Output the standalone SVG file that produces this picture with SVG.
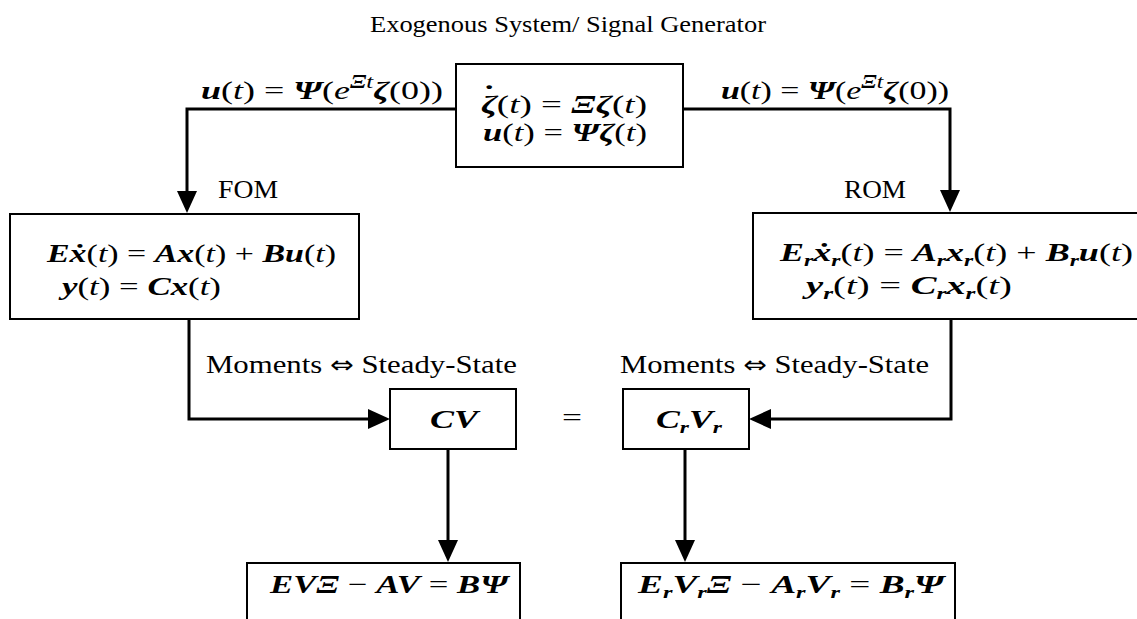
<svg xmlns="http://www.w3.org/2000/svg" width="1137" height="619" viewBox="0 0 1137 619" font-family="'Liberation Serif', 'DejaVu Serif', serif" font-size="26">
<style>
.box{fill:#fff;stroke:#000;stroke-width:2}
.conn{fill:none;stroke:#000;stroke-width:3}
.bi{font-weight:bold;font-style:italic}
.i{font-style:italic}
.sub{font-size:17px}
.sup{font-size:18px}
.arr{font-family:'DejaVu Sans',sans-serif;font-size:24px}
</style>
<defs>
<marker id="ah" markerUnits="userSpaceOnUse" markerWidth="24" markerHeight="22" refX="12" refY="10" orient="auto" viewBox="0 0 24 22">
<path d="M0,0 L22,10 L0,20 Z" fill="#000"/>
</marker>
</defs>
<rect width="1137" height="619" fill="#fff"/>
<g id="title"><text x="370" y="32" font-size="24" textLength="396" lengthAdjust="spacingAndGlyphs">Exogenous System/ Signal Generator</text></g>
<g id="connectors">
<path class="conn" d="M456,109 H187 V203" marker-end="url(#ah)"/>
<path class="conn" d="M683,109 H950 V202" marker-end="url(#ah)"/>
<path class="conn" d="M189,319 V419 H380" marker-end="url(#ah)"/>
<path class="conn" d="M951,319 V419 H759" marker-end="url(#ah)"/>
<path class="conn" d="M448,449 V552" marker-end="url(#ah)"/>
<path class="conn" d="M685,449 V552" marker-end="url(#ah)"/>
</g>
<g id="labels">
<text x="201" y="99" textLength="242" lengthAdjust="spacingAndGlyphs"><tspan class="bi">u</tspan>(<tspan class="i">t</tspan>) = <tspan class="bi">Ψ</tspan>(<tspan class="i">e</tspan><tspan class="bi sup" dy="-11">Ξ</tspan><tspan class="i sup">t</tspan><tspan class="bi" dy="11">ζ</tspan>(0))</text>
<text x="721" y="99" textLength="228" lengthAdjust="spacingAndGlyphs"><tspan class="bi">u</tspan>(<tspan class="i">t</tspan>) = <tspan class="bi">Ψ</tspan>(<tspan class="i">e</tspan><tspan class="bi sup" dy="-11">Ξ</tspan><tspan class="i sup">t</tspan><tspan class="bi" dy="11">ζ</tspan>(0))</text>
<text x="218" y="198" textLength="60" lengthAdjust="spacingAndGlyphs">FOM</text>
<text x="844" y="198" textLength="62" lengthAdjust="spacingAndGlyphs">ROM</text>
<text x="206" y="373" textLength="311" lengthAdjust="spacingAndGlyphs">Moments <tspan class="arr">⇔</tspan> Steady-State</text>
<text x="620" y="373" textLength="309" lengthAdjust="spacingAndGlyphs">Moments <tspan class="arr">⇔</tspan> Steady-State</text>
<text x="562" y="426" textLength="20" lengthAdjust="spacingAndGlyphs">=</text>
</g>
<g id="exo-system">
<rect class="box" x="456" y="64" width="227" height="103"/>
<text x="481" y="113" textLength="166" lengthAdjust="spacingAndGlyphs"><tspan class="bi">ζ</tspan><tspan font-weight="bold" dx="-10" dy="-10">˙</tspan><tspan dx="1" dy="10">(</tspan><tspan class="i">t</tspan>) = <tspan class="bi">Ξζ</tspan>(<tspan class="i">t</tspan>)</text>
<text x="483" y="141" textLength="164" lengthAdjust="spacingAndGlyphs"><tspan class="bi">u</tspan>(<tspan class="i">t</tspan>) = <tspan class="bi">Ψζ</tspan>(<tspan class="i">t</tspan>)</text>
</g>
<g id="fom">
<rect class="box" x="10" y="214" width="349" height="105"/>
<text x="47" y="262" textLength="289" lengthAdjust="spacingAndGlyphs"><tspan class="bi">Eẋ</tspan>(<tspan class="i">t</tspan>) = <tspan class="bi">Ax</tspan>(<tspan class="i">t</tspan>) + <tspan class="bi">Bu</tspan>(<tspan class="i">t</tspan>)</text>
<text x="62" y="295" textLength="159" lengthAdjust="spacingAndGlyphs"><tspan class="bi">y</tspan>(<tspan class="i">t</tspan>) = <tspan class="bi">Cx</tspan>(<tspan class="i">t</tspan>)</text>
</g>
<g id="rom">
<rect class="box" x="753" y="213" width="400" height="106"/>
<text x="780" y="261" textLength="353" lengthAdjust="spacingAndGlyphs"><tspan class="bi">E</tspan><tspan class="bi sub" dy="5">r</tspan><tspan class="bi" dy="-5">ẋ</tspan><tspan class="bi sub" dy="5">r</tspan><tspan dy="-5">(</tspan><tspan class="i">t</tspan>) = <tspan class="bi">A</tspan><tspan class="bi sub" dy="5">r</tspan><tspan class="bi" dy="-5">x</tspan><tspan class="bi sub" dy="5">r</tspan><tspan dy="-5">(</tspan><tspan class="i">t</tspan>) + <tspan class="bi">B</tspan><tspan class="bi sub" dy="5">r</tspan><tspan class="bi" dy="-5">u</tspan>(<tspan class="i">t</tspan>)</text>
<text x="806" y="294" textLength="206" lengthAdjust="spacingAndGlyphs"><tspan class="bi">y</tspan><tspan class="bi sub" dy="5">r</tspan><tspan dy="-5">(</tspan><tspan class="i">t</tspan>) = <tspan class="bi">C</tspan><tspan class="bi sub" dy="5">r</tspan><tspan class="bi" dy="-5">x</tspan><tspan class="bi sub" dy="5">r</tspan><tspan dy="-5">(</tspan><tspan class="i">t</tspan>)</text>
</g>
<g id="cv">
<rect class="box" x="390" y="389" width="126" height="60"/>
<text x="430" y="428" textLength="48" lengthAdjust="spacingAndGlyphs" class="bi">CV</text>
</g>
<g id="crvr">
<rect class="box" x="623" y="389" width="126" height="60"/>
<text x="656" y="428" textLength="66" lengthAdjust="spacingAndGlyphs"><tspan class="bi">C</tspan><tspan class="bi sub" dy="5">r</tspan><tspan class="bi" dy="-5">V</tspan><tspan class="bi sub" dy="5">r</tspan></text>
</g>
<g id="sylvester-fom">
<rect class="box" x="247" y="563" width="273" height="80"/>
<text x="270" y="593" textLength="238" lengthAdjust="spacingAndGlyphs"><tspan class="bi">EVΞ</tspan> − <tspan class="bi">AV</tspan> = <tspan class="bi">BΨ</tspan></text>
</g>
<g id="sylvester-rom">
<rect class="box" x="621" y="563" width="334" height="80"/>
<text x="638" y="593" textLength="306" lengthAdjust="spacingAndGlyphs"><tspan class="bi">E</tspan><tspan class="bi sub" dy="5">r</tspan><tspan class="bi" dy="-5">V</tspan><tspan class="bi sub" dy="5">r</tspan><tspan class="bi" dy="-5">Ξ</tspan> − <tspan class="bi">A</tspan><tspan class="bi sub" dy="5">r</tspan><tspan class="bi" dy="-5">V</tspan><tspan class="bi sub" dy="5">r</tspan><tspan dy="-5"> = </tspan><tspan class="bi">B</tspan><tspan class="bi sub" dy="5">r</tspan><tspan class="bi" dy="-5">Ψ</tspan></text>
</g>
</svg>
